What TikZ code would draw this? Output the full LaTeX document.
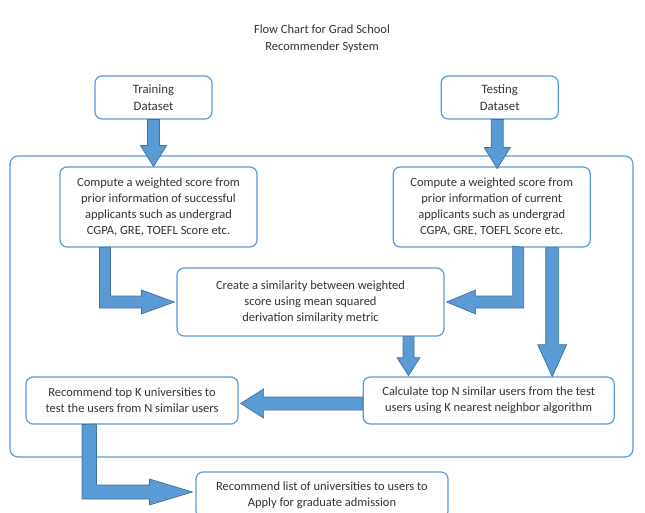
\documentclass[tikz,border=0pt]{standalone}
\usepackage{fontspec}
\setmainfont{Carlito}
\usetikzlibrary{positioning,calc}
\definecolor{gsline}{HTML}{5B9BD5}
\definecolor{gsfill}{HTML}{5B9BD5}
\definecolor{gsedge}{HTML}{41719C}
\definecolor{gstext}{HTML}{333333}
\tikzset{
  gsbox/.style={draw=gsline, rounded corners=7pt, line width=1.2pt, fill=white, align=center, text=gstext, font=\fontsize{12.5}{16}\selectfont, inner sep=2pt},
  gsframe/.style={draw=gsline, rounded corners=8pt, line width=1.2pt},
  gsarrow/.style={fill=gsfill, draw=gsedge, line width=0.7pt, line join=miter}
}

\begin{document}
\begin{tikzpicture}[x=1pt, y=-1pt]
  \useasboundingbox (0,0) rectangle (645,513);
  \node[align=center, text=gstext, font=\fontsize{12.5}{17}\selectfont] (title) at (322,38.5) {Flow Chart for Grad School\\Recommender System};
  \draw[gsframe] (10,156) rectangle (633,457);
  \node[gsbox, font=\fontsize{12.8}{17}\selectfont, minimum width=117pt, minimum height=43pt] (train) at (153.5,97.5) {Training\\Dataset};
  \node[gsbox, font=\fontsize{12.8}{17}\selectfont, minimum width=117pt, minimum height=43pt, right=228pt of train] (test) {Testing\\Dataset};
  \node[gsbox, minimum width=197pt, minimum height=80pt] (compL) at (158.5,207) {Compute a weighted score from\\prior information of successful\\applicants such as undergrad\\CGPA, GRE, TOEFL Score etc.};
  \node[gsbox, minimum width=197pt, minimum height=80pt, right=135pt of compL] (compR) {Compute a weighted score from\\prior information of current\\applicants such as undergrad\\CGPA, GRE, TOEFL Score etc.};
  \node[gsbox, minimum width=267pt, minimum height=68pt] (sim) at (310.5,302) {Create a similarity between weighted\\score using mean squared\\derivation similarity metric};
  \node[gsbox, minimum width=212pt, minimum height=47pt] (recK) at (132,400.5) {Recommend top K universities to\\test the users from N similar users};
  \node[gsbox, minimum width=251pt, minimum height=47pt, right=124pt of recK] (calc) {Calculate top N similar users from the test\\users using K nearest neighbor algorithm};
  \node[gsbox, minimum width=252pt, minimum height=46pt] (list) at (322,495) {Recommend list of universities to users to\\Apply for graduate admission};
  % block arrows
  \draw[gsarrow] ($(train.south)+(-6,0)$) -- ++(0,26) -- ++(-7,0) -- ++(13,21) -- ++(13,-21) -- ++(-7,0) -- ++(0,-26) -- cycle;
  \draw[gsarrow] ($(test.south)+(-8.5,0)$) -- ++(0,28) -- ++(-7,0) -- ++(13,21) -- ++(13,-21) -- ++(-7,0) -- ++(0,-28) -- cycle;
  \draw[gsarrow] ($(compL.south west)+(40,0)$) |- ($(sim.west)+(-35,6)$) -- ++(0,6) -- ++(33,-12) -- ++(-33,-12) -- ++(0,6) -- ++(-31,0) -- ++(0,-49) -- cycle;
  \draw[gsarrow] ($(compR.south)+(32,0)$) |- ($(sim.east)+(31,6)$) -- ++(0,6) -- ++(-29,-12) -- ++(29,-12) -- ++(0,6) -- ++(37,0) -- ++(0,-50) -- cycle;
  \draw[gsarrow] ($(compR.south)+(54,0)$) -- ++(0,97) -- ++(-8,0) -- ++(14.5,32) -- ++(14.5,-32) -- ++(-8,0) -- ++(0,-97) -- cycle;
  \draw[gsarrow] ($(sim.south)+(92.5,0)$) -- ++(0,21) -- ++(-6,0) -- ++(11.5,18) -- ++(11.5,-18) -- ++(-6,0) -- ++(0,-21) -- cycle;
  \draw[gsarrow] ($(calc.west)+(0,-3.5)$) -- ++(-99,0) -- ++(0,-8) -- ++(-23,14.5) -- ++(23,14.5) -- ++(0,-8) -- ++(99,0) -- cycle;
  \draw[gsarrow] ($(recK.south)+(-50,0)$) |- ($(list.west)+(-46,4)$) -- ++(0,6) -- ++(43,-13) -- ++(-43,-13) -- ++(0,6) -- ++(-53,0) -- ++(0,-61) -- cycle;
\end{tikzpicture}
\end{document}
